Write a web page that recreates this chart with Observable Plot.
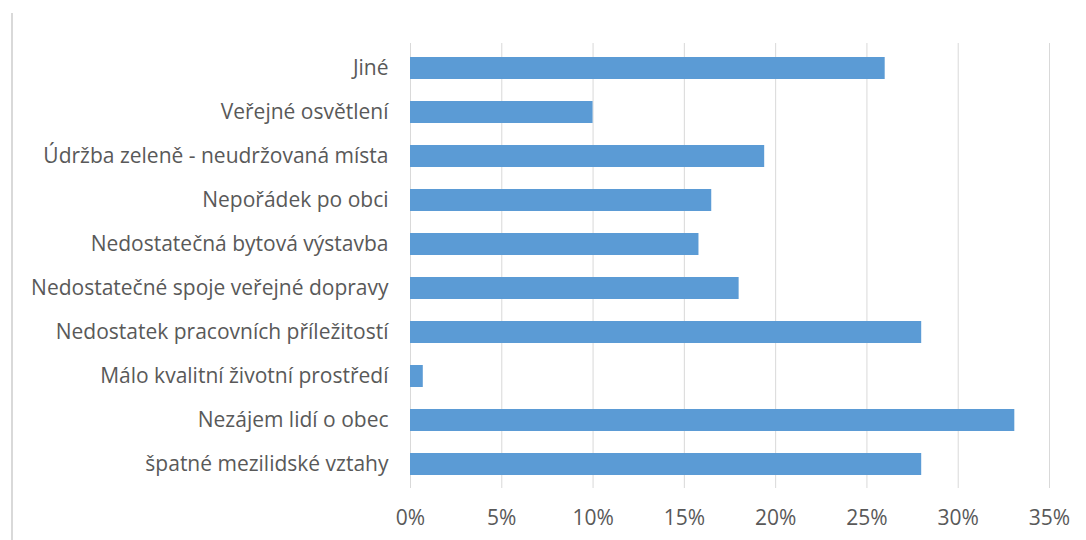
<!DOCTYPE html>
<html><head><meta charset="utf-8">
<script src="https://cdn.jsdelivr.net/npm/d3@7"></script>
<script src="https://cdn.jsdelivr.net/npm/@observablehq/plot@0.6"></script>
<style>
html,body{margin:0;padding:0;background:#fff;}
#wrap{position:relative;width:1086px;height:540px;}
#border{position:absolute;left:11px;top:13px;width:0;height:527px;border-left:2px solid #d9d9d9;}
</style></head>
<body><div id="wrap"><div id="border"></div></div>
<script>
const categories = ["Jiné","Veřejné osvětlení","Údržba zeleně - neudržovaná místa","Nepořádek po obci","Nedostatečná bytová výstavba","Nedostatečné spoje veřejné dopravy","Nedostatek pracovních příležitostí","Málo kvalitní životní prostředí","Nezájem lidí o obec","špatné mezilidské vztahy"];
const values = [26.0, 10.0, 19.4, 16.5, 15.8, 18.0, 28.0, 0.7, 33.1, 28.0];
const xTicks = [0,5,10,15,20,25,30,35];
const data = categories.map((c,i)=>({category:c, value:values[i]}));
const chart = Plot.plot({
  width:1086, height:540,
  marginLeft:410, marginRight:37, marginTop:43, marginBottom:52,
  style:{fontFamily:"'Open Sans', sans-serif", fontSize:"21px", color:"#595959", background:"transparent"},
  x:{domain:[0,35], ticks:xTicks, tickFormat:d=>d+"%", label:null},
  y:{domain:categories, paddingInner:0.5, paddingOuter:0.25, label:null},
  marks:[
    Plot.gridX(xTicks,{stroke:"#d9d9d9", strokeOpacity:1, strokeWidth:1}),
    Plot.barX(data,{x:"value", y:"category", fill:"#5b9bd5"}),
    Plot.axisX({ticks:xTicks, tickSize:0, tickPadding:22, tickFormat:d=>d+"%", fill:"#595959", fontSize:21, label:null}),
    Plot.axisY({tickSize:0, tickPadding:22, fill:"#595959", fontSize:21, label:null})
  ]
});
chart.style.position="absolute"; chart.style.left="0"; chart.style.top="0";
document.getElementById("wrap").appendChild(chart);
</script></body></html>
